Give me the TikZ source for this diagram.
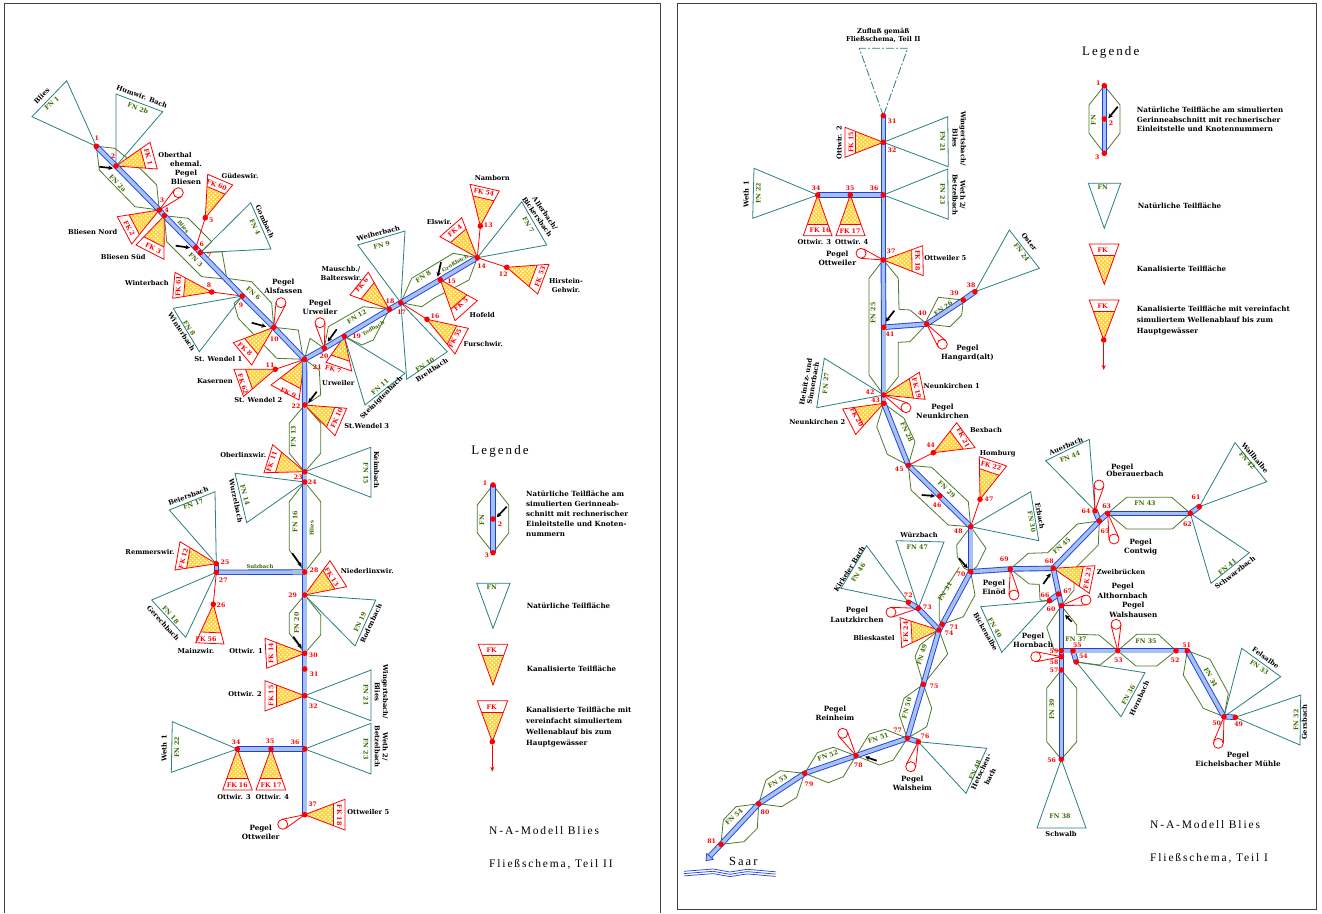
\documentclass[tikz,border=0pt]{standalone}
\usepackage{fontspec}
\usetikzlibrary{calc,patterns.meta,arrows.meta}
\newfontfamily\labf{DejaVu Serif}
\newfontfamily\titf[LetterSpace=16]{Liberation Serif}
\pgfdeclarelayer{bg}
\pgfsetlayers{bg,main}
\definecolor{fnteal}{HTML}{2A7F80}
\definecolor{polyg}{HTML}{4F7A2A}
\definecolor{labg}{HTML}{3E6B00}
\definecolor{rivb}{HTML}{1E3CF0}
\definecolor{rivi}{HTML}{A6C2E6}
\definecolor{fky}{HTML}{FFD23C}
\tikzset{
  x=1pt,y=-1pt,
  dot/.style={circle,fill=red,draw=none,minimum size=5.6pt,inner sep=0pt,outer sep=0pt},
  numl/.style={text=red,font=\labf\bfseries\fontsize{6.2}{7}\selectfont,inner sep=0pt},
  fnline/.style={draw=fnteal,line width=.8pt,line join=miter},
  fkline/.style={draw=red,line width=.8pt,line join=miter},
  fkfill/.style={fill=fky,draw=none},
  fkdots/.style={pattern={Dots[radius=.95pt,distance=2.9pt,angle=45]},pattern color=white},
  polyline/.style={draw=polyg,line width=.8pt,line join=round},
  fnlab/.style={text=labg,font=\labf\bfseries\fontsize{6.3}{7}\selectfont,inner sep=0pt},
  fklab/.style={text=red,font=\labf\bfseries\fontsize{6.3}{7}\selectfont,inner sep=0pt},
  txtl/.style={text=black,font=\labf\bfseries\fontsize{6.7}{8.6}\selectfont,inner sep=0pt,align=center},
  pegl/.style={text=black,font=\labf\bfseries\fontsize{7.2}{9.3}\selectfont,inner sep=0pt,align=center},
  legt/.style={text=black,font=\labf\bfseries\fontsize{7.1}{9.8}\selectfont,inner sep=0pt,align=left,anchor=west},
  legh/.style={text=black,font=\titf\fontsize{13}{15}\selectfont,inner sep=0pt},
  titl/.style={text=black,font=\titf\fontsize{11.5}{13}\selectfont,inner sep=0pt,anchor=west},
  riverline/.style={draw=rivb,line width=.9pt,double=rivi,double distance=3.6pt},
  inflowl/.style={draw=black,line width=1.7pt,-{Stealth[length=4.5pt,width=4.5pt]}},
  gaugec/.style={circle,draw=red,line width=.8pt,fill=white,minimum size=10pt,inner sep=0pt,outer sep=0pt},
  gaugel/.style={draw=red,line width=.8pt},
  framel/.style={draw=black!75,line width=.8pt},
  dashl/.style={draw=fnteal,line width=.8pt,dash pattern=on 8pt off 2pt on 2pt off 2pt},
  wavel/.style={draw=rivb,line width=.7pt}
}
\newcount\txc
\newcommand\Pt[4]{\node[dot] (#1) at (#2) {}; \node[numl] (#1-l) at (#4) {#3};}
\newcommand\FN[6]{\draw[fnline] (#1.center) -- (#2) -- (#3) -- cycle;
  \node[fnlab,rotate=#6] (#1-#4) at (#5) {#4};}
\newcommand\FK[6]{%
  \fill[fkfill] (#1.center) -- ($(#1.center)!.72!(#2)$) -- ($(#1.center)!.72!(#3)$) -- cycle;
  \fill[fkdots] (#1.center) -- ($(#1.center)!.72!(#2)$) -- ($(#1.center)!.72!(#3)$) -- cycle;
  \draw[fkline] (#1.center) -- (#2) -- (#3) -- cycle;
  \draw[fkline] ($(#1.center)!.72!(#2)$) -- ($(#1.center)!.72!(#3)$);
  \node[fklab,rotate=#6] (#1-#4) at (#5) {#4};}
\newcommand\Gauge[2]{\node[gaugec] (g#1) at (#2) {};
  \draw[gaugel] (#1.center) -- (tangent cs:node=g#1,point={(#1.center)},solution=1);
  \draw[gaugel] (#1.center) -- (tangent cs:node=g#1,point={(#1.center)},solution=2);}
\newcommand\Tx[3]{\global\advance\txc by 1 \node[txtl,rotate=#2] (t\the\txc) at (#1) {#3};}
\newcommand\Pg[2]{\global\advance\txc by 1 \node[pegl] (t\the\txc) at (#1) {#2};}
\newcommand\Gr[3]{\global\advance\txc by 1 \node[fnlab,rotate=#2] (t\the\txc) at (#1) {#3};}
\newcommand\Sm[3]{\global\advance\txc by 1 \node[fnlab,font=\labf\bfseries\fontsize{5.3}{6}\selectfont,rotate=#2] (t\the\txc) at (#1) {#3};}
\newcommand\Inflow[2]{\global\advance\txc by 1
  \coordinate (ia\the\txc) at (#1); \coordinate (ib\the\txc) at (#2);
  \draw[inflowl] (ia\the\txc) -- (ib\the\txc);}
\begin{document}
\begin{tikzpicture}
\useasboundingbox (0,0) rectangle (1322,913);
\begin{pgfonlayer}{bg}
\fill[white] (0,0) rectangle (1322,913);
\draw[framel] (4,3) -- (660,3) -- (660,913);
\draw[framel] (4,3) -- (4,913);
\draw[framel] (677,3) rectangle (1316,909);
\end{pgfonlayer}

%%%%%%%%%%%%%%%% LEFT PANEL: nodes
\Pt{L1}{96.3,146.3}{1}{96.7,138.3}
\Pt{L2}{116,166}{2}{113,155.7}
\Pt{L3}{159.3,210}{3}{162,200.7}
\Pt{L4}{164.3,215.7}{4}{166.7,210}
\Pt{L5}{205.3,217.7}{5}{211.3,220}
\Pt{L6}{195.7,247.7}{6}{201.7,244.3}
\Pt{L7}{200.3,252.7}{7}{209.3,255.3}
\Pt{L8}{211.7,292}{8}{209,285.7}
\Pt{L9}{242.3,296}{9}{241,305.7}
\Pt{L10}{273.7,327.3}{10}{274.3,339}
\Pt{L11}{275.3,369.3}{11}{270,365}
\Pt{L12}{506.7,267.3}{12}{503.3,274.3}
\Pt{L13}{480.3,226}{13}{488.3,225}
\Pt{L14}{477.3,257.7}{14}{481.7,265.7}
\Pt{L15}{440.3,279.7}{15}{451.7,281.7}
\Pt{L16}{427,319.3}{16}{435,316.7}
\Pt{L17}{400.8,302.7}{17}{401.7,311.7}
\Pt{L18}{389.3,309.3}{18}{390,301.7}
\Pt{L19}{344.3,336.3}{19}{356.7,336.7}
\Pt{L20}{324.3,348.3}{20}{324,356}
\Pt{L21}{304.5,359.3}{21}{317.3,366.7}
\Pt{L22}{304.7,405}{22}{296,405.7}
\Pt{L23}{304.7,471.7}{23}{298.3,477.3}
\Pt{L24}{304.7,482}{24}{312.3,481.7}
\Pt{L25}{216.3,563.7}{25}{225,562.3}
\Pt{L26}{213.3,604.3}{26}{221,605.3}
\Pt{L27}{216.3,572.3}{27}{223.3,580}
\Pt{L28}{304.7,572}{28}{314,570.7}
\Pt{L29}{304.7,595}{29}{292.7,595}
\Pt{L30}{304.7,653.3}{30}{313.3,655}
\Pt{L31}{304.7,669}{31}{314,674.3}
\Pt{L32}{304.7,695.7}{32}{313.3,706.7}
\Pt{L34}{237.3,749}{34}{236,742.3}
\Pt{L35}{271,749}{35}{270,741.3}
\Pt{L36}{304.7,749}{36}{295,742.3}
\Pt{L37}{304.7,814.7}{37}{312.7,804}

\begin{pgfonlayer}{bg}
% natural areas
\FN{L1}{66.7,80.7}{32,116.7}{FN 1}{51.7,103.3}{40}
\FN{L2}{116,94}{162.7,111.7}{FN 2b}{138,108.3}{-20}
\FN{L7}{250.7,202.7}{271,249}{FN 4}{255,226.7}{-65}
\FN{L9}{173.3,308.3}{199.3,351.7}{FN 8}{189.3,328.3}{-57}
\FN{L17}{357.7,245}{405,231}{FN 9}{381.7,245}{15}
\FN{L17}{447.3,351.7}{406.7,379.3}{FN 10}{425,365}{33}
\FN{L19}{405,373.3}{365,405}{FN 11}{380,386.7}{42}
\FN{L14}{521.7,201.7}{546.7,245}{FN 7}{528.3,225}{-60}
\FN{L23}{370.7,447.3}{371,497.3}{FN 15}{366,473.3}{-90}
\FN{L24}{235,473.3}{246.7,522.7}{FN 14}{245,495}{-75}
\FN{L25}{169.3,510}{215,491.7}{FN 17}{193.3,504}{20}
\FN{L27}{151.7,600}{185.7,637.3}{FN 18}{170.7,615}{-48}
\FN{L29}{375.7,600}{355,646}{FN 19}{360,621.7}{65}
\FN{L32}{371,670}{371,720.7}{FN 21}{366,695}{-90}
\FN{L36}{371,723.3}{371,774}{FN 23}{366,749}{-90}
\FN{L34}{172.3,721.7}{171.3,772.3}{FN 22}{176.7,747.3}{90}
% sub-catchment outlines
\draw[polyline] (L1) -- (115,148.3) -- (141.7,170) -- (156.7,185) -- (L3) -- (135,206.7) -- (99.3,170) -- (L1);
\draw[polyline] (L4) -- (188.3,218.3) -- (211.7,241.7) -- (L7);
\draw[polyline] (L4) -- (166.7,241.7) -- (201.7,276.7) -- (228.3,279.3) -- (L9);
\draw[polyline] (L7) -- (222,251.7) -- (226.7,278.3) -- (251.7,281.7) -- (271.7,303.3) -- (L10);
\draw[polyline] (L9) -- (234,303.3) -- (238.3,318.3) -- (276.7,358.3) -- (L21);
\draw[polyline] (L10) -- (298.3,330) -- (303,357) -- (L21);
\draw[polyline] (L21) -- (310,338.3) -- (L20) -- (328.3,326.7) -- (363.3,306.7) -- (L18) -- (373.3,340) -- (361.7,345) -- (L19);
\draw[polyline] (L21) -- (319.3,370) -- (320.7,395) -- (L22);
\draw[polyline] (L17) -- (411.7,278.3) -- (453.3,253.3) -- (L14) -- (469,280) -- (435,297.7) -- (421.7,306.7) -- (L17);
\draw[polyline] (L22) -- (289.3,423.3) -- (289.3,453.3) -- (L23) -- (320.7,453.3) -- (320.7,423.3) -- (L22);
\draw[polyline] (L24) -- (289.3,501.7) -- (289.3,550) -- (L28) -- (320.7,551.7) -- (320.7,501.7) -- (L24);
\draw[polyline] (L29) -- (289.3,613.3) -- (289.3,633.3) -- (L30) -- (320.7,635) -- (320.7,615) -- (L29);
% sewered areas
\FK{L2}{150,142.3}{157.3,169}{FK 1}{148.3,156.7}{-75}
\FK{L3}{117.3,216.7}{131.7,244}{FK 2}{129.3,228.3}{-60}
\FK{L4}{136,245}{164,259.3}{FK 3}{153.3,248.3}{-25}
\FK{L5}{207.7,174.3}{232.7,185}{FK 60}{216.7,185}{-20}
\FK{L8}{175,272.3}{172.7,298.3}{FK 61}{178.3,286}{88}
\FK{L10}{233.3,342.7}{251.7,365}{FK 8}{245,349.3}{-40}
\FK{L11}{234,369.3}{243.5,396.5}{FK 62}{243,384}{-72}
\FK{L21}{271,385}{299,400}{FK 9}{288.3,393}{-25}
\FK{L19}{326,362.3}{351.7,371}{FK 7}{333.3,369.3}{-15}
\FK{L18}{350,295}{368.3,272.3}{FK 6}{361.7,285}{50}
\FK{L13}{470,184.3}{499.3,191}{FK 54}{484,192.3}{-12}
\FK{L14}{440,236.7}{461.7,217.7}{FK 4}{455,230.7}{40}
\FK{L15}{455,320.7}{477.3,300.7}{FK 5}{461,304.3}{40}
\FK{L12}{549,264.3}{537.7,294}{FK 53}{540,276.7}{70}
\FK{L16}{468.3,328.3}{455,354}{FK 55}{455,338.3}{62}
\FK{L22}{346.7,408.3}{335,435.7}{FK 10}{336.7,418.3}{65}
\FK{L23}{272.7,444.7}{264,472.7}{FK 11}{271.7,461.7}{70}
\FK{L25}{180,541.7}{175,570}{FK 12}{183.3,558.3}{75}
\FK{L29}{330,560.7}{346.7,586.7}{FK 13}{331.7,577}{-57}
\FK{L26}{195.7,642.7}{224,644}{FK 56}{206,639.3}{0}
\FK{L30}{265,638.3}{266.7,668.3}{FK 14}{271,653.3}{90}
\FK{L32}{265,680.7}{265,711}{FK 15}{271,695.7}{90}
\FK{L34}{222.7,790}{252.3,790}{FK 16}{237.3,785}{0}
\FK{L35}{256,790}{285.7,790}{FK 17}{271,785}{0}
\FK{L37}{345,799.3}{345,830}{FK 18}{339.3,815}{-90}
% red links
\foreach \a/\b in {L5/L6,L8/L9,L11/L21,L16/L17,L13/L14,L12/L14,L26/L27}
  \draw[gaugel] (\a.center) -- (\b.center);
% gauges
\Gauge{L3}{178.3,192.7}
\Gauge{L10}{281,302.7}
\Gauge{L20}{320,322.7}
\Gauge{L37}{282.7,824.3}
% river
\foreach \a/\b in {L1/L2,L2/L3,L3/L4,L4/L6,L6/L7,L7/L9,L9/L10,L10/L21,L21/L20,L20/L19,L19/L18,L18/L17,L17/L15,L15/L14,L21/L22,L22/L23,L23/L24,L24/L28,L28/L29,L29/L30,L30/L31,L31/L32,L32/L36,L36/L37,L28/L27,L27/L25,L36/L35,L35/L34}
  \draw[riverline] (\a.center) -- (\b.center);
\end{pgfonlayer}
% inflow arrows
\Inflow{99.3,166.7}{113,168.3}
\Inflow{175.7,245.7}{190,247.7}
\Inflow{251.7,322.7}{266,326.7}
\Inflow{336.7,329.3}{327.7,341.7}
\Inflow{441,262.3}{437.7,276.7}
\Inflow{316.7,391.7}{308.3,402.7}
\Inflow{292.3,553.3}{301.7,566.7}
\Inflow{293.3,636.7}{301.7,648.3}
% labels left
\Tx{41.7,96}{45}{Blies}
\Tx{142,96.5}{-21}{Humwir. Bach}
\Tx{175,155}{0}{Oberthal}
\Pg{186,173}{ehemal.\\Pegel\\Bliesen}
\Tx{240,175.7}{0}{Güdeswir.}
\Tx{92.7,231.7}{0}{Bliesen Nord}
\Tx{123.3,257.3}{0}{Bliesen Süd}
\Tx{265,221.7}{-65}{Gombach}
\Tx{147,283}{0}{Winterbach}
\Tx{181.7,331.7}{-57}{Winterbach}
\Pg{283.3,286.5}{Pegel\\Alsfassen}
\Pg{320,307}{Pegel\\Urweiler}
\Tx{218.3,359}{0}{St. Wendel 1}
\Tx{215,381}{0}{Kasernen}
\Tx{258.3,400}{0}{St. Wendel 2}
\Tx{338.3,383.3}{0}{Urweiler}
\Tx{341,273.3}{0}{Mauschb./\\Balterswir.}
\Tx{378.3,233.3}{15}{Weiherbach}
\Tx{439.3,221.7}{0}{Elswir.}
\Tx{492.3,178.3}{0}{Namborn}
\Tx{545,213.3}{-55}{Allerbach/}
\Tx{537.3,216.7}{-55}{Bickersbach}
\Tx{566,285.5}{0}{Hirstein-\\Gehwir.}
\Tx{482.3,315}{0}{Hofeld}
\Tx{483.3,344.3}{0}{Furschwir.}
\Tx{431.7,370}{33}{Breitbach}
\Tx{381.7,398}{45}{Steinigtenbach}
\Tx{366.7,426}{0}{St.Wendel 3}
\Tx{243.3,455}{0}{Oberlinxwir.}
\Tx{376.7,470}{-90}{Keimbach}
\Tx{236,500.7}{-78}{Wurzelbach}
\Tx{188.3,496}{20}{Beiersbach}
\Tx{150,552}{0}{Remmerswir.}
\Tx{163.3,623.3}{-48}{Gerechbach}
\Tx{196,651}{0}{Mainzwir.}
\Tx{367.3,571}{0}{Niederlinxwir.}
\Tx{371,623.3}{65}{Rodenbach}
\Tx{246,651}{0}{Ottwir. 1}
\Tx{245,694.3}{0}{Ottwir. 2}
\Tx{385,691.7}{-90}{Wingertsbach/}
\Tx{377.3,691.7}{-90}{Blies}
\Tx{385,746.7}{-90}{Weth 2/}
\Tx{377.3,746.7}{-90}{Betzelbach}
\Tx{164,748.3}{90}{Weth 1}
\Tx{234,796.7}{0}{Ottwir. 3}
\Tx{272.3,796.7}{0}{Ottwir. 4}
\Tx{368.3,812.3}{0}{Ottweiler 5}
\Pg{260.7,832.5}{Pegel\\Ottweiler}
% green river and sub-area labels, left
\Gr{117.7,183.3}{-45}{FN 2a}
\Gr{195.7,260}{-45}{FN 3}
\Gr{253.3,293.3}{-42}{FN 6}
\Gr{356.7,316.7}{30}{FN 12}
\Gr{423.3,276.7}{32}{FN 8}
\Gr{293.3,436.7}{90}{FN 13}
\Gr{295,521.7}{90}{FN 16}
\Gr{296.7,623}{90}{FN 20}
\Sm{183.3,226.7}{-50}{Blies}
\Sm{373.3,328.3}{30}{Todbach}
\Sm{455,263.3}{30}{Großbach}
\Sm{260,566.7}{0}{Sulzbach}
\Sm{311.7,528.3}{90}{Blies}
% legend left
\node[legh] (lgh1) at (500,451.7) {Legende};
\node[dot] (A1) at (493,485) {};
\node[dot] (A2) at (493,519) {};
\node[dot] (A3) at (493,552.7) {};
\node[numl] (A1-l) at (485,483.3) {1};
\node[numl] (A2-l) at (500,524.3) {2};
\node[numl] (A3-l) at (486.7,555) {3};
\node[dot] (A4) at (492.3,741.7) {};
\coordinate (A5) at (493,628.3);
\coordinate (A6) at (493,685);
\coordinate (A7) at (492.3,771.7);
\begin{pgfonlayer}{bg}
\draw[polyline] (A1) -- (477.3,505) -- (477.3,533) -- (A3) -- (508.7,533) -- (508.7,505) -- (A1);
\draw[riverline] (A1.center) -- (A2.center);
\draw[riverline] (A2.center) -- (A3.center);
\draw[fnline] (476.7,583.3) -- (510,583.3) -- (A5) -- cycle;
\node[dot,opacity=0] (A5n) at (A5) {};
\node[dot,opacity=0] (A6n) at (A6) {};
\FK{A6n}{478.3,644.3}{507.7,644.3}{FK}{491.7,650}{0}
\FK{A4}{477.3,700.7}{507.7,700.7}{FK}{491.7,706.7}{0}
\draw[gaugel,-{Stealth[length=5pt,width=4pt,open]}] (A4) -- (A7);
\end{pgfonlayer}
\node[fnlab] (A8) at (481.7,520) [rotate=90] {FN};
\node[fnlab] (A9) at (491.7,587.3) {FN};
\Inflow{506.7,506.7}{496.7,517.3}
\node[legt] (lg1) at (526,513.8) {Natürliche Teilfläche am\\simulierten Gerinneab-\\schnitt mit rechnerischer\\Einleitstelle und Knoten-\\nummern};
\node[legt] (lg2) at (526.7,605.7) {Natürliche Teilfläche};
\node[legt] (lg3) at (526.7,669) {Kanalisierte Teilfläche};
\node[legt] (lg4) at (526,727) {Kanalisierte Teilfläche mit\\[1.1pt]vereinfacht simuliertem\\[1.1pt]Wellenablauf bis zum\\[1.1pt]Hauptgewässer};
\node[titl] (tt1) at (489,831) {N-A-Modell Blies};
\node[titl] (tt2) at (489,864) {Fließschema, Teil II};

%%%%%%%%%%%%%%%% RIGHT PANEL: nodes
\Pt{R31}{883.3,115.7}{31}{892,121}
\Pt{R32}{883.3,142.3}{32}{892,150.7}
\Pt{R34}{817.7,195}{34}{816,188.3}
\Pt{R35}{850.3,195}{35}{850,188.3}
\Pt{R36}{883.3,195}{36}{874,188.3}
\Pt{R37}{883.3,260}{37}{891,251.7}
\Pt{R38}{975,291.7}{38}{971,285.3}
\Pt{R39}{963.3,300}{39}{954.3,293.3}
\Pt{R40}{926.7,324}{40}{922.3,313.3}
\Pt{R41}{883.7,327.3}{41}{890,334.3}
\Pt{R42}{883.7,395}{42}{870,392.3}
\Pt{R43}{883.7,403.3}{43}{875.7,400}
\Pt{R44}{933.3,452.7}{44}{930.7,445}
\Pt{R45}{908.3,465.3}{45}{899.3,469.3}
\Pt{R46}{939.7,496}{46}{937,505}
\Pt{R47}{980,499.3}{47}{989,499.3}
\Pt{R48}{970.7,526.7}{48}{958.3,531.7}
\Pt{R49}{1235.3,717.3}{49}{1238.7,724}
\Pt{R50}{1224,716.7}{50}{1216.7,723.3}
\Pt{R51}{1187.3,650.7}{51}{1186.7,645}
\Pt{R52}{1176,650.7}{52}{1175,660}
\Pt{R53}{1117.7,650.7}{53}{1118.3,660}
\Pt{R54}{1076.3,662}{54}{1083.3,656.7}
\Pt{R55}{1073,650.7}{55}{1077.3,645.7}
\Pt{R56}{1061.3,759.3}{56}{1051.7,760}
\Pt{R57}{1061.3,670}{57}{1054,670.7}
\Pt{R58}{1061.3,656.7}{58}{1054,662.3}
\Pt{R59}{1061.3,650.7}{59}{1054,651.7}
\Pt{R60}{1061.3,605.7}{60}{1051,609.3}
\Pt{R61}{1199.3,506.7}{61}{1196,497.7}
\Pt{R62}{1190.3,513.3}{62}{1187.3,524.3}
\Pt{R63}{1107.7,513.3}{63}{1106.7,506}
\Pt{R64}{1095,510.7}{64}{1086,511.7}
\Pt{R65}{1099.3,521}{65}{1105,531.7}
\Pt{R66}{1049.3,600.7}{66}{1045,595}
\Pt{R67}{1058.7,594}{67}{1067.7,591}
\Pt{R68}{1053.3,568.3}{68}{1049.3,561.7}
\Pt{R69}{1010.3,569}{69}{1004.3,559.3}
\Pt{R70}{970.7,571.7}{70}{961,574.3}
\Pt{R71}{942.3,624.3}{71}{954,626.7}
\Pt{R72}{908.3,602.3}{72}{908.3,595}
\Pt{R73}{918.3,608.3}{73}{927.3,607.7}
\Pt{R74}{939,630}{74}{949,633.3}
\Pt{R75}{923.3,684.3}{75}{934,686.7}
\Pt{R76}{918.3,741.7}{76}{925,736}
\Pt{R77}{907.3,738.3}{77}{897.7,730.7}
\Pt{R78}{856,755.7}{78}{858.3,765}
\Pt{R79}{804.7,773.3}{79}{809,784.3}
\Pt{R80}{758.7,803.7}{80}{765,812.3}
\Pt{R81}{721,844.3}{81}{711.7,841}
\coordinate (R31a) at (859.3,48.3);
\coordinate (R31b) at (907.7,48.3);
\coordinate (R81e) at (710,856);
\begin{pgfonlayer}{bg}
\draw[dashl] (R31.center) -- (R31a) -- (R31b) -- (R31.center);
\FN{R32}{947.7,116.7}{948.3,166.7}{FN 21}{942.7,141.7}{-90}
\FN{R36}{947.7,169}{948.3,219.3}{FN 23}{942.7,194}{-90}
\FN{R34}{754,168.3}{752.7,218.3}{FN 22}{758.3,193.3}{90}
\FN{R38}{1009.3,230}{1039.3,268.3}{FN 24}{1021.7,252.3}{-52}
\FN{R42}{824.3,358.3}{816.7,407.7}{FN 27}{825.7,383.3}{85}
\FN{R48}{1030.7,491.7}{1038.7,540.7}{FN 30}{1031.7,521.7}{-80}
\FN{R64}{1045.7,460.7}{1089.3,439.3}{FN 44}{1070,456.7}{22}
\FN{R61}{1235,442.7}{1266.7,481.7}{FN 42}{1247.3,460.7}{-50}
\FN{R62}{1249.3,552.7}{1211,583.3}{FN 41}{1227.3,566.7}{38}
\FN{R54}{1145,672.7}{1121,716.7}{FN 36}{1128.3,695}{60}
\FN{R50}{1241.7,648.3}{1280.7,676.7}{FN 33}{1259.3,667.3}{-35}
\FN{R49}{1300.7,695}{1300,745}{FN 32}{1296,720}{90}
\FN{R56}{1037,828}{1086,828}{FN 38}{1060,816}{0}
\FN{R73}{896,540.7}{944,542}{FN 47}{917.3,547.3}{0}
\FN{R72}{866.7,545.7}{841,588.3}{FN 46}{858.3,572.7}{58}
\FN{R66}{980.7,606.7}{1001.7,652.3}{FN 40}{995,627.7}{-60}
\FN{R76}{986.7,748.3}{966,793.3}{FN 48}{975,770}{65}
% outlines
\draw[polyline] (R37) -- (869,278.3) -- (869,375) -- (R42);
\draw[polyline] (R37) -- (898.3,278.3) -- (899,309.3) -- (910,310) -- (R40);
\draw[polyline] (R40) -- (910,341.7) -- (898.3,342.3) -- (898.3,376.7) -- (R42);
\draw[polyline] (R39) -- (938.3,297.3) -- (926.7,320) -- (R40) -- (950,326.7) -- (961.7,315) -- (R39);
\draw[polyline] (R43) -- (876.7,426.7) -- (887.3,454.3) -- (R45) -- (915,441.7) -- (904,418.3) -- (R43);
\draw[polyline] (R45) -- (931.7,467.3) -- (968.3,501.7) -- (R48) -- (948.3,525) -- (911,490) -- (R45);
\draw[polyline] (R48) -- (956.7,545) -- (957.3,556.7) -- (964,568) -- (R70);
\draw[polyline] (R48) -- (986,548.3) -- (976.7,566.7) -- (R70);
\draw[polyline] (959.3,567.3) -- (939.3,598.3) -- (939.3,620) -- (R71);
\draw[polyline] (R70) -- (975,595) -- (963.3,616.7) -- (R71);
\draw[polyline] (R69) -- (1028.3,553.3) -- (1047.7,552.7) -- (1077.3,524) -- (R65);
\draw[polyline] (R69) -- (1029.3,584) -- (1039.3,584.3) -- (1040,600) -- (R66);
\draw[polyline] (R65) -- (1098.3,545) -- (1076.7,566.7) -- (1074,578) -- (1074,590) -- (R60);
\draw[polyline] (R63) -- (1126.7,497.3) -- (1171.7,497.3) -- (R62) -- (1172.3,529) -- (1126.7,529) -- (R63);
\draw[polyline] (R60) -- (1076.7,625) -- (1076.7,634.3) -- (1099,635) -- (R53);
\draw[polyline] (R60) -- (1046.7,627.3) -- (1054,650) -- (R59);
\draw[polyline] (R53) -- (1136.7,634.3) -- (1158.3,634.3) -- (R52) -- (1156.7,666) -- (1136,666) -- (R53);
\draw[polyline] (R53) -- (1100,665) -- (R54);
\draw[polyline] (R51) -- (1210,659.3) -- (1228.3,693.3) -- (R50) -- (1203.3,708.3) -- (1183.3,675) -- (R51);
\draw[polyline] (R57) -- (1046.7,688.3) -- (1046.7,741.7) -- (R56) -- (1076.7,741.7) -- (1076.7,688.3) -- (R57);
\draw[polyline] (R74) -- (920,645) -- (915,656.7) -- (R75) -- (947.7,654) -- (R74);
\draw[polyline] (R75) -- (904,698.3) -- (899.3,715) -- (R77) -- (926.7,726.7) -- (931.7,708.3) -- (R75);
\draw[polyline] (R77) -- (885,729.3) -- (869.3,734) -- (R78) -- (879.3,765) -- (893.3,760) -- (R77);
\draw[polyline] (R78) -- (833.3,747.3) -- (817.3,752.7) -- (R79) -- (828.3,782.7) -- (843.3,776.7) -- (R78);
\draw[polyline] (R79) -- (780,770.7) -- (766,780) -- (R80) -- (781.7,806.7) -- (796.7,797.3) -- (R79);
\draw[polyline] (R80) -- (736,806.7) -- (723.3,820) -- (R81) -- (744,841.7) -- (757.3,828.3) -- (R80);
% sewered
\FK{R32}{845,127.3}{845,157.3}{FK 15}{851,142.3}{90}
\FK{R34}{803.3,235.7}{832,235.7}{FK 16}{820,230.7}{0}
\FK{R35}{836,235.7}{865,235.7}{FK 17}{850,230.7}{0}
\FK{R37}{922.7,245.7}{923.3,275.7}{FK 18}{917.7,260.7}{-90}
\FK{R42}{919.3,372.3}{925,399.3}{FK 19}{916.7,388.3}{-75}
\FK{R43}{842.7,409}{855.7,434.3}{FK 20}{856.7,417.3}{-62}
\FK{R44}{956.7,422.7}{975,447.7}{FK 21}{963.3,437.7}{-62}
\FK{R47}{979.3,456.7}{1006.7,466}{FK 22}{991,466}{-15}
\FK{R68}{1095,565.7}{1089.3,593.3}{FK 23}{1087.3,578.3}{80}
\FK{R74}{900,617.7}{901.7,647.7}{FK 24}{905.7,631.7}{90}
% red links
\foreach \a/\b in {R44/R45,R47/R48}
  \draw[gaugel] (\a.center) -- (\b.center);
% gauges
\Gauge{R37}{861,253.3}
\Gauge{R40}{942.3,344.3}
\Gauge{R42}{906,407.7}
\Gauge{R64}{1099,485}
\Gauge{R63}{1114,539}
\Gauge{R69}{1014,595}
\Gauge{R60}{1086,600}
\Gauge{R53}{1116,624.3}
\Gauge{R58}{1035.7,656.7}
\Gauge{R50}{1218.3,743.3}
\Gauge{R73}{891,612.3}
\Gauge{R78}{842.7,733.3}
\Gauge{R76}{910.7,766.7}
% river
\foreach \a/\b in {R31/R32,R32/R36,R36/R35,R35/R34,R36/R37,R37/R41,R41/R40,R40/R39,R39/R38,R41/R42,R42/R43,R43/R45,R45/R46,R46/R48,R48/R70,R70/R69,R69/R68,R68/R65,R65/R64,R65/R63,R63/R62,R62/R61,R68/R67,R67/R66,R67/R60,R60/R59,R59/R58,R58/R57,R57/R56,R59/R55,R55/R54,R55/R53,R53/R52,R52/R51,R51/R50,R50/R49,R70/R71,R71/R74,R74/R73,R73/R72,R74/R75,R75/R77,R77/R76,R77/R78,R78/R79,R79/R80,R80/R81,R81/R81e}
  \draw[riverline] (\a.center) -- (\b.center);
\end{pgfonlayer}
\coordinate (sa1) at (713.3,859.3);
\coordinate (sa2) at (706,860.7);
\coordinate (sa3) at (706.7,853.5);
\filldraw[draw=rivb,fill=rivi,line width=.7pt] (sa1) -- (sa2) -- (sa3) -- cycle;
% inflows
\Inflow{894.3,310.7}{885.7,321.7}
\Inflow{921.7,495}{935,496}
\Inflow{959,558.3}{967.7,568.3}
\Inflow{1043.3,584}{1050.7,573.3}
\Inflow{1071.7,621.7}{1065,615}
\Inflow{876.7,760.7}{865,756.7}
% waves
\coordinate (w1a) at (684,871.3); \coordinate (w1b) at (775.7,871.8);
\coordinate (w2a) at (684,873.6); \coordinate (w2b) at (775.7,874.1);
\coordinate (w3a) at (684,875.9); \coordinate (w3b) at (775.7,876.4);
\draw[wavel] (w1a) -- (713,869) -- (730,872) -- (747,869.3) -- (w1b);
\draw[wavel] (w2a) -- (713,871.3) -- (730,874.3) -- (747,871.6) -- (w2b);
\draw[wavel] (w3a) -- (713,873.6) -- (730,876.6) -- (747,873.9) -- (w3b);
\node[legh,font=\titf\fontsize{12.5}{14}\selectfont] (saar) at (743.3,861.7) {Saar};
% labels right
\Tx{883.3,35.5}{0}{Zufluß gemäß\\Fließschema, Teil II}
\Tx{839,142.7}{90}{Ottwir. 2}
\Tx{962.7,138.3}{-90}{Wingertsbach/}
\Tx{955,138.3}{-90}{Blies}
\Tx{962.7,195}{-90}{Weth 2/}
\Tx{955,195}{-90}{Betzelbach}
\Tx{746,194.3}{90}{Weth 1}
\Tx{814.3,242.3}{0}{Ottwir. 3}
\Tx{851.7,242.3}{0}{Ottwir. 4}
\Tx{945.3,258}{0}{Ottweiler 5}
\Pg{837.3,258}{Pegel\\Ottweiler}
\Tx{1029.3,241.7}{-52}{Oster}
\Pg{967.5,353}{Pegel\\Hangard(alt)}
\Tx{805.7,381.7}{80}{Heinitz- und}
\Tx{813,383}{80}{Sinnerbach}
\Tx{951.7,385.7}{0}{Neunkirchen 1}
\Pg{942.5,411.4}{Pegel\\Neunkirchen}
\Tx{817.3,422.3}{0}{Neunkirchen 2}
\Tx{986,430}{0}{Bexbach}
\Tx{997.7,453.3}{0}{Homburg}
\Tx{1040,516}{-80}{Erbach}
\Tx{1066,446}{22}{Auerbach}
\Pg{1122.3,467.7}{Pegel}
\Pg{1135,474.3}{Oberauerbach}
\Pg{1140.7,547.3}{Pegel\\Contwig}
\Tx{1255,457.7}{-50}{Wallhalbe}
\Tx{1235,572.7}{38}{Schwarzbach}
\Tx{1121,572.3}{0}{Zweibrücken}
\Pg{1122.7,590.8}{Pegel\\Althornbach}
\Pg{1133.3,609.8}{Pegel\\Walshausen}
\Pg{1033,640}{Pegel\\Hornbach}
\Pg{994,587}{Pegel\\Einöd}
\Tx{1139.3,698.3}{65}{Hornbach}
\Tx{1265.7,657.7}{-35}{Felsalbe}
\Tx{1304.3,722.3}{90}{Gersbach}
\Pg{1238,759}{Pegel\\Eichelsbacher Mühle}
\Tx{1061,834}{0}{Schwalb}
\Tx{919,535}{0}{Würzbach}
\Tx{849.3,569.3}{58}{Kirkeler Bach}
\Pg{857,614.7}{Pegel\\Lautzkirchen}
\Tx{874,638.3}{0}{Blieskastel}
\Tx{985.7,631.7}{-60}{Bickenalbe}
\Pg{835,713}{Pegel\\Reinheim}
\Pg{912.3,783.5}{Pegel\\Walsheim}
\Tx{981,771.7}{65}{Hetschen-}
\Tx{990,776.7}{65}{bach}
% green sub-area labels right
\Gr{873,313}{90}{FN 25}
\Gr{943.3,308.3}{37}{FN 26}
\Gr{906.7,431.7}{-65}{FN 28}
\Gr{946.7,489.3}{-43}{FN 29}
\Gr{945,591.7}{58}{FN 31}
\Gr{1061.7,545.7}{42}{FN 45}
\Gr{1145,502.7}{0}{FN 43}
\Gr{1076,639}{0}{FN 37}
\Gr{1146,641}{0}{FN 35}
\Gr{1210.7,677.3}{-62}{FN 34}
\Gr{1051.7,709.3}{90}{FN 39}
\Gr{921.7,655}{72}{FN 49}
\Gr{906.7,708.3}{75}{FN 50}
\Gr{878.3,738.3}{18}{FN 51}
\Gr{827.7,755.7}{18}{FN 52}
\Gr{777.7,781.7}{30}{FN 53}
\Gr{734,816.7}{42}{FN 54}
% legend right
\node[legh] (lgh2) at (1110.7,52.7) {Legende};
\node[dot] (B1) at (1104.3,85.7) {};
\node[dot] (B2) at (1104.3,119) {};
\node[dot] (B3) at (1104.3,153.3) {};
\node[numl] (B1-l) at (1098.3,83.3) {1};
\node[numl] (B2-l) at (1111,123.3) {2};
\node[numl] (B3-l) at (1097.3,157.3) {3};
\node[dot] (B4) at (1103.7,340) {};
\node[dot,opacity=0] (B5) at (1104.3,228.3) {};
\node[dot,opacity=0] (B6) at (1104.3,284.3) {};
\coordinate (B7) at (1103.7,370);
\begin{pgfonlayer}{bg}
\draw[polyline] (B1) -- (1089,105) -- (1089,133.3) -- (B3) -- (1120,133.3) -- (1120,105) -- (B1);
\draw[riverline] (B1.center) -- (B2.center);
\draw[riverline] (B2.center) -- (B3.center);
\draw[fnline] (1088.3,183.3) -- (1120.7,183.3) -- (B5.center) -- cycle;
\FK{B6}{1089.3,244}{1119,244}{FK}{1102.7,250}{0}
\FK{B4}{1089.3,300}{1119,300}{FK}{1102.7,305.7}{0}
\draw[gaugel,-{Stealth[length=5pt,width=4pt,open]}] (B4) -- (B7);
\end{pgfonlayer}
\node[fnlab,rotate=90] (B8) at (1093.3,120) {FN};
\node[fnlab] (B9) at (1102.7,187.3) {FN};
\Inflow{1117.7,106.7}{1108.3,118.3}
\node[legt] (lg5) at (1136.7,119.3) {Natürliche Teilfläche am simulierten\\Gerinneabschnitt mit rechnerischer\\Einleitstelle und Knotennummern};
\node[legt] (lg6) at (1137.7,205.7) {Natürliche Teilfläche};
\node[legt] (lg7) at (1136.7,268.3) {Kanalisierte Teilfläche};
\node[legt] (lg8) at (1136.7,320.7) {Kanalisierte Teilfläche mit vereinfacht\\[1.1pt]simuliertem Wellenablauf bis zum\\[1.1pt]Hauptgewässer};
\node[titl] (tt3) at (1150,825) {N-A-Modell Blies};
\node[titl] (tt4) at (1150,858) {Fließschema, Teil I};
\end{tikzpicture}
\end{document}
